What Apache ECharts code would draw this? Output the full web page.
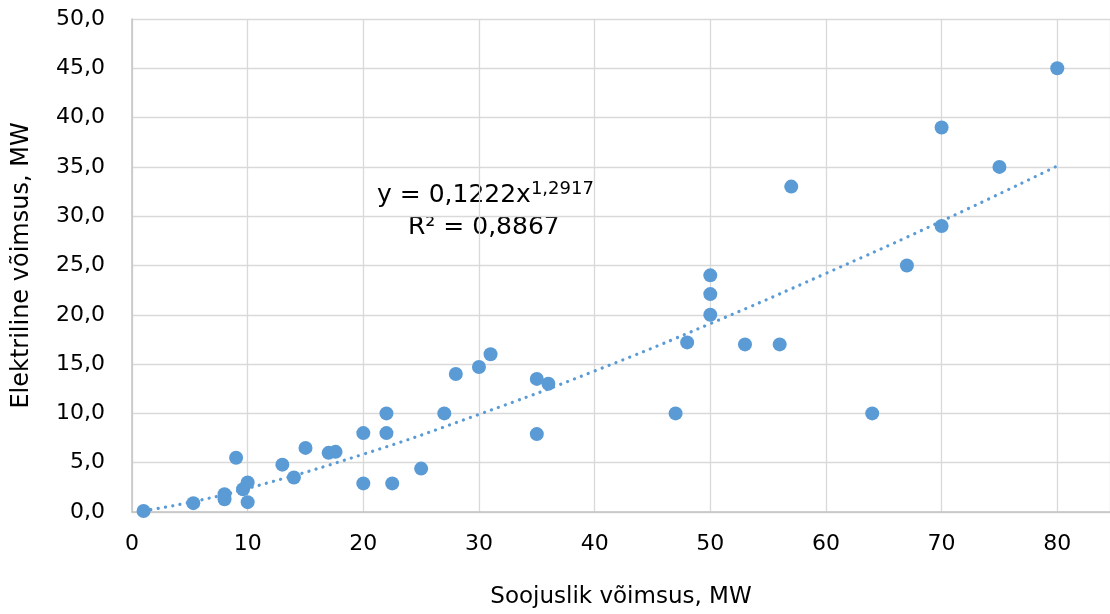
<!DOCTYPE html>
<html>
<head>
<meta charset="utf-8">
<script src="https://cdn.jsdelivr.net/npm/echarts@6/dist/echarts.min.js"></script>
<style>
  html, body { margin: 0; padding: 0; background: #fff; }
  #main { width: 1110px; height: 614px; }
</style>
</head>
<body>
<div id="main"></div>
<script>
// soojuslik võimsus (x) ja elektriline võimsus (y), MW
const soojus = [1, 5.3, 8, 8, 9, 9.6, 10, 10, 13, 14, 15, 17, 17.6, 20, 20, 22, 22, 22.5, 25, 27,
  28, 30, 31, 35, 35, 36, 47, 48, 50, 50, 50, 53, 56, 57, 64, 67, 70, 70, 75, 80];
const elekter = [0.1, 0.9, 1.8, 1.3, 5.5, 2.3, 3.0, 1.0, 4.8, 3.5, 6.5, 6.0, 6.1, 8.0, 2.9, 10.0, 8.0, 2.9, 4.4, 10.0,
  14.0, 14.7, 16.0, 13.5, 7.9, 13.0, 10.0, 17.2, 24.0, 22.1, 20.0, 17.0, 17.0, 33.0, 10.0, 25.0, 39.0, 29.0, 35.0, 45.0];

// trendijoon (astmefunktsioon), loetud graafikult
const trendX = [1, 5, 10, 20, 30, 40, 50, 60, 70, 80];
const trendY = [0.12, 0.98, 2.39, 5.86, 9.9, 14.3, 19.1, 24.2, 29.5, 35.1];

const yTicks = [0, 5, 10, 15, 20, 25, 30, 35, 40, 45, 50];
const xTicks = [0, 10, 20, 30, 40, 50, 60, 70, 80];

const blue = '#5b9bd5';
const font = 'DejaVu Sans';

const myChart = echarts.init(document.getElementById('main'));

const option = {
  animation: false,
  grid: { left: 132, top: 19, right: 0, bottom: 102, outerBoundsMode: 'none', containLabel: false },
  xAxis: {
    type: 'value',
    min: 0,
    max: 84.56,
    interval: 10,
    name: 'Soojuslik võimsus, MW',
    nameLocation: 'middle',
    nameGap: 74,
    nameMoveOverlap: false,
    nameTextStyle: { fontFamily: font, fontSize: 23, color: '#000' },
    axisLine: { show: true, lineStyle: { color: '#c4c4c4', width: 1.5 } },
    axisTick: { show: false },
    splitLine: { show: true, lineStyle: { color: '#d9d9d9', width: 1.3 } },
    axisLabel: {
      fontFamily: font, fontSize: 22, color: '#000', margin: 21,
      formatter: v => (xTicks.indexOf(v) >= 0 ? String(v) : '')
    }
  },
  yAxis: {
    type: 'value',
    min: 0,
    max: 50,
    interval: 5,
    name: 'Elektriline võimsus, MW',
    nameLocation: 'middle',
    nameGap: 98,
    nameMoveOverlap: false,
    nameTextStyle: { fontFamily: font, fontSize: 24, color: '#000' },
    axisLine: { show: true, lineStyle: { color: '#c4c4c4', width: 1.5 } },
    axisTick: { show: false },
    splitLine: { show: true, lineStyle: { color: '#d9d9d9', width: 1.3 } },
    axisLabel: {
      fontFamily: font, fontSize: 22, color: '#000',
      // tühi lõpuosa annab sildi ja telje vahele ruumi
      formatter: v => (yTicks.indexOf(v) >= 0 ? '{t|' + v.toFixed(1).replace('.', ',') + '}{s|}' : ''),
      rich: {
        t: { fontFamily: font, fontSize: 22, color: '#000' },
        s: { width: 19 }
      }
    }
  },
  series: [
    {
      name: 'trend',
      type: 'line',
      smooth: true,
      showSymbol: false,
      symbol: 'none',
      data: trendX.map((x, i) => [x, trendY[i]]),
      lineStyle: { color: blue, width: 3.2, type: [0.1, 7.3], cap: 'round' },
      z: 3
    },
    {
      name: 'andmed',
      type: 'scatter',
      symbolSize: 14,
      data: soojus.map((x, i) => [x, elekter[i]]),
      itemStyle: { color: blue, opacity: 1 },
      z: 2
    }
  ],
  graphic: [
    {
      type: 'text',
      left: 377,
      top: 180,
      style: {
        text: '{a|y = 0,1222x}{b|1,2917}',
        rich: {
          a: { fontFamily: font, fontSize: 25, fill: '#000' },
          b: { fontFamily: font, fontSize: 18, fill: '#000', padding: [0, 0, 13, 0] }
        }
      }
    },
    {
      type: 'text',
      left: 408,
      top: 215,
      style: {
        text: 'R² = 0,8867',
        fontFamily: font,
        fontSize: 25,
        fill: '#000'
      }
    }
  ]
};

myChart.setOption(option);
</script>
</body>
</html>
